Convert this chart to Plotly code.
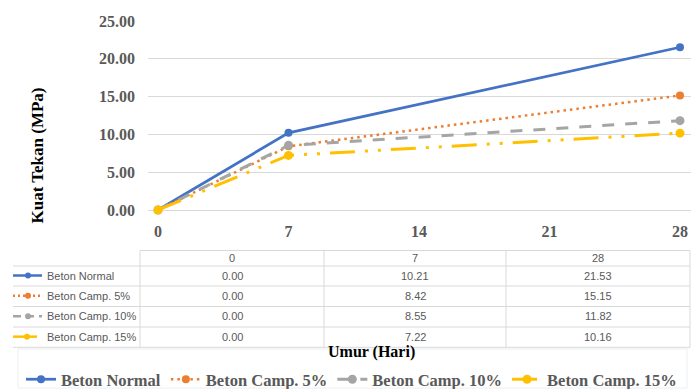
import plotly.graph_objects as go

# Concrete compressive strength vs. age
days = [0, 7, 28]
series_names = ["Beton Normal", "Beton Camp. 5%", "Beton Camp. 10%", "Beton Camp. 15%"]
beton_normal = [0.00, 10.21, 21.53]
beton_5 = [0.00, 8.42, 15.15]
beton_10 = [0.00, 8.55, 11.82]
beton_15 = [0.00, 7.22, 10.16]
x_ticks = [0, 7, 14, 21, 28]
y_ticks = [0, 5, 10, 15, 20, 25]

W, H = 691, 389
colors = ["#4472C4", "#ED7D31", "#A5A5A5", "#FFC000"]
dashes = ["solid", "2.5px,4px", "12px,11px", "25px,10px,3px,10px,3px,10px"]
widths = [2.75, 2.5, 3, 3]
msizes = [8, 8, 9, 9]
values = [beton_normal, beton_5, beton_10, beton_15]

def px(x):
    return x / W

def py(y):
    return 1 - y / H

fig = go.Figure()
for name, vals, c, d, w, m in zip(series_names, values, colors, dashes, widths, msizes):
    fig.add_trace(go.Scatter(
        x=days, y=vals, name=name, mode="lines+markers",
        line=dict(color=c, dash=d, width=w),
        marker=dict(color=c, size=m, symbol="circle"),
        cliponaxis=False,
    ))

grid = "#D9D9D9"
txt = "#595959"
serif = "Liberation Serif"
sans = "Liberation Sans"

shapes = []
annotations = []

# data table under the chart
col_edges = [140, 324, 506, 690]
row_edges = [266, 286, 306.5, 327, 347.3]
head_top = 250.5
shapes.append(dict(type="line", xref="paper", yref="paper",
                   x0=px(140), x1=px(690), y0=py(head_top), y1=py(head_top),
                   line=dict(color=grid, width=1)))
for ry in row_edges:
    shapes.append(dict(type="line", xref="paper", yref="paper",
                       x0=px(13), x1=px(690), y0=py(ry), y1=py(ry),
                       line=dict(color=grid, width=1)))
for cx in col_edges:
    shapes.append(dict(type="line", xref="paper", yref="paper",
                       x0=px(cx), x1=px(cx), y0=py(head_top), y1=py(row_edges[-1]),
                       line=dict(color=grid, width=1)))

col_centers = [(col_edges[i] + col_edges[i + 1]) / 2 for i in range(3)]
for cx, d in zip(col_centers, days):
    annotations.append(dict(x=px(cx), y=py(258), xref="paper", yref="paper",
                            text=str(d), showarrow=False,
                            xanchor="center", yanchor="middle",
                            font=dict(family=sans, size=11, color=txt)))

row_centers = [(row_edges[i] + row_edges[i + 1]) / 2 - 0.5 for i in range(4)]
key_spans = [(13, 42), (13, 40), (13, 42), (13, 37)]
key_marker = [28, 28, 28, 27]
for i, (name, vals) in enumerate(zip(series_names, values)):
    ry = row_centers[i]
    annotations.append(dict(x=px(45), y=py(ry), xref="paper", yref="paper",
                            xanchor="left", yanchor="middle", text=name, showarrow=False,
                            font=dict(family=sans, size=11, color=txt)))
    for cx, v in zip(col_centers, vals):
        annotations.append(dict(x=px(cx), y=py(ry), xref="paper", yref="paper",
                                text=f"{v:.2f}", showarrow=False,
                                xanchor="center", yanchor="middle",
                                font=dict(family=sans, size=11, color=txt)))
    k0, k1 = key_spans[i]
    kd = ["solid", "2px,3px", "8px,5px", "solid"][i]
    shapes.append(dict(type="line", xref="paper", yref="paper",
                       x0=px(k0), x1=px(k1), y0=py(ry), y1=py(ry),
                       line=dict(color=colors[i], width=2.5, dash=kd)))
    r = 3
    shapes.append(dict(type="circle", xref="paper", yref="paper",
                       x0=px(key_marker[i] - r), x1=px(key_marker[i] + r),
                       y0=py(ry - r), y1=py(ry + r),
                       fillcolor=colors[i], line=dict(color=colors[i], width=0)))

# faint frame around the legend
shapes.append(dict(type="rect", xref="paper", yref="paper",
                   x0=px(18), x1=px(687), y0=py(388), y1=py(349),
                   line=dict(color="#ECEEF2", width=1), layer="below"))

# axis titles
annotations.append(dict(x=px(36.5), y=py(156), xref="paper", yref="paper",
                        text="Kuat Tekan (MPa)", textangle=-90, showarrow=False,
                        xanchor="center", yanchor="middle",
                        font=dict(family=serif, size=17, color="#000000", weight="bold")))
annotations.append(dict(x=px(372), y=py(352), xref="paper", yref="paper",
                        text="Umur (Hari)", showarrow=False,
                        xanchor="center", yanchor="middle",
                        font=dict(family=serif, size=16, color="#000000", weight="bold")))

fig.update_layout(
    width=W, height=H,
    margin=dict(l=0, r=0, t=0, b=0, autoexpand=False),
    paper_bgcolor="white", plot_bgcolor="white",
    showlegend=True,
    legend=dict(orientation="h", x=px(21), y=-8 / H, xanchor="left", yanchor="bottom",
                font=dict(family=serif, size=16.5, color=txt, weight="bold"),
                itemwidth=30, tracegroupgap=0, bgcolor="rgba(0,0,0,0)"),
    shapes=shapes,
    annotations=annotations,
    xaxis=dict(domain=[px(148), 1], range=[-0.536, 28.59],
               tickvals=x_ticks, showgrid=False, zeroline=False, showline=False,
               ticks="", ticklabelstandoff=10,
               tickfont=dict(family=serif, size=16, color=txt, weight="bold")),
    yaxis=dict(domain=[py(210), py(21)], range=[0, 25],
               tickvals=y_ticks, tickformat=".2f",
               showgrid=True, gridcolor=grid, gridwidth=1,
               zeroline=True, zerolinecolor=grid, zerolinewidth=1, showline=False,
               ticks="", ticklabelstandoff=12,
               tickfont=dict(family=serif, size=16, color=txt, weight="bold")),
)

fig.write_html("out.html")
